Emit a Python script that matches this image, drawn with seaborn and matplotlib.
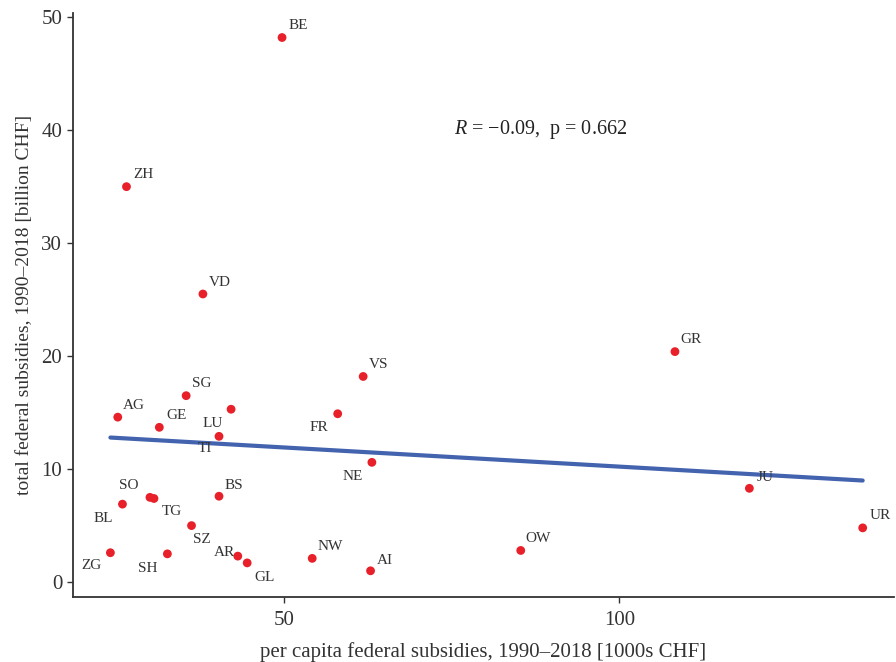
import numpy as np
import pandas as pd
import matplotlib
matplotlib.use("Agg")
import matplotlib.pyplot as plt
import seaborn as sns

# Cantonal federal subsidies, 1990-2018
cantons = ["BE", "ZH", "VD", "GR", "VS", "AG", "SG", "LU", "GE", "TI", "FR", "NE", "SO",
           "TG", "BL", "BS", "SZ", "ZG", "SH", "AR", "GL", "NW", "AI", "OW", "JU", "UR"]
per_capita = [49.7, 26.5, 37.9, 108.3, 61.8, 25.2, 35.4, 42.1, 31.4, 40.3, 58.0, 63.1, 30.0,
              30.6, 25.9, 40.3, 36.2, 24.1, 32.6, 43.1, 44.5, 54.2, 62.9, 85.3, 119.4, 136.3]
total = [48.2, 35.0, 25.5, 20.4, 18.2, 14.6, 16.5, 15.3, 13.7, 12.9, 14.9, 10.6, 7.5,
         7.4, 6.9, 7.6, 5.0, 2.6, 2.5, 2.3, 1.7, 2.1, 1.0, 2.8, 8.3, 4.8]
x_ticks = [50, 100]
y_ticks = [0, 10, 20, 30, 40, 50]
stat_label = r"$\mathit{R}$ = −0.09,  p = 0.662"

# label placement (pixel offsets from each point, repelled layout)
label_offsets = {
    "BE": (16, 12), "ZH": (17, 12), "VD": (17, 11), "GR": (16, 12), "VS": (15, 12),
    "AG": (16, 12), "SG": (16, 12), "LU": (-18, -14), "GE": (17, 12), "TI": (-14, -12),
    "FR": (-19, -14), "NE": (-19, -14), "SO": (-21, 12), "TG": (18, -13), "BL": (-19, -14),
    "BS": (15, 11), "SZ": (10, -14), "ZG": (-19, -13), "SH": (-20, -15), "AR": (-13, 4),
    "GL": (17, -15), "NW": (18, 12), "AI": (14, 10), "OW": (17, 12), "JU": (16, 11),
    "UR": (18, 12),
}

df = pd.DataFrame({"canton": cantons, "per_capita": per_capita, "total": total})

sns.set_theme(style="ticks")
plt.rcParams["font.family"] = ["Liberation Serif", "DejaVu Serif"]
plt.rcParams["mathtext.fontset"] = "custom"
plt.rcParams["mathtext.it"] = "Liberation Serif:italic"
plt.rcParams["mathtext.rm"] = "Liberation Serif"

text_col = "#333333"
fig = plt.figure(figsize=(8.96, 6.62), dpi=100)
ax = fig.add_axes([0.081, 0.098, 0.917, 0.882])

sns.regplot(data=df, x="per_capita", y="total", scatter=False, ci=None, ax=ax,
            line_kws=dict(color="#4363AF", lw=3.0))
sns.scatterplot(data=df, x="per_capita", y="total", ax=ax, color="#E8202A",
                s=40, edgecolor="none", zorder=3)

for name, xv, yv in zip(cantons, per_capita, total):
    dx, dy = label_offsets[name]
    ax.annotate(name, (xv, yv), xytext=(dx * 0.72, dy * 0.72), textcoords="offset points",
                ha="center", va="center", fontsize=11, color=text_col)

ax.text(88.2, 40.1, stat_label, ha="center", va="center", fontsize=14.5, color="#222222")

ax.set_xlim(18.46, 141.0)
ax.set_ylim(-1.33, 50.35)
ax.set_xticks(x_ticks)
ax.set_yticks(y_ticks)
ax.tick_params(axis="both", length=4, width=1.0, color="#333333", labelsize=15,
               labelcolor="#333333", direction="out")
ax.tick_params(axis="x", pad=6)
for side in ("left", "bottom"):
    ax.spines[side].set_color("#333333")
    ax.spines[side].set_linewidth(1.3)
sns.despine(ax=ax)
ax.set_xlabel("per capita federal subsidies, 1990–2018 [1000s CHF]", fontsize=15,
              color="#333333", labelpad=9)
ax.set_ylabel("total federal subsidies, 1990–2018 [billion CHF]", fontsize=14,
              color="#333333", labelpad=6)

fig.savefig("out.png", dpi=100)
